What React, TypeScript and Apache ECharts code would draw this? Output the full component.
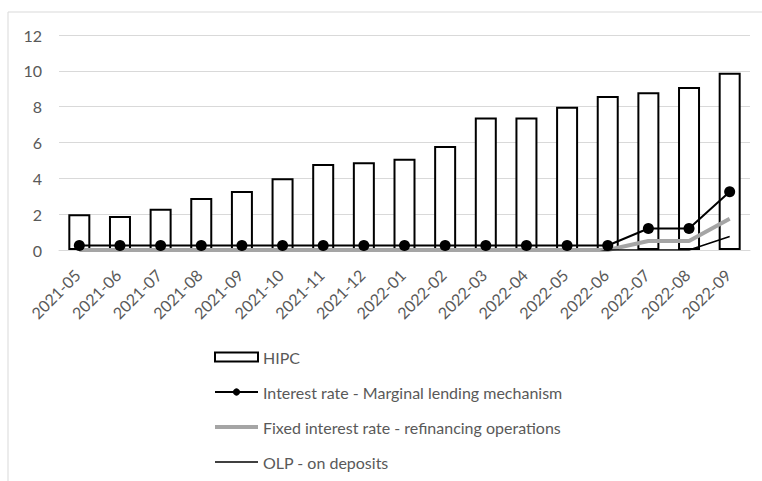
import React, { useEffect, useRef } from "react";
import * as echarts from "echarts";

const categories = [
  "2021-05", "2021-06", "2021-07", "2021-08", "2021-09", "2021-10", "2021-11", "2021-12",
  "2022-01", "2022-02", "2022-03", "2022-04", "2022-05", "2022-06", "2022-07", "2022-08", "2022-09",
];
const hipc = [2.0, 1.9, 2.3, 2.9, 3.3, 4.0, 4.8, 4.9, 5.1, 5.8, 7.4, 7.4, 8.0, 8.6, 8.8, 9.1, 9.9];
const marginalLending = [0.25, 0.25, 0.25, 0.25, 0.25, 0.25, 0.25, 0.25, 0.25, 0.25, 0.25, 0.25, 0.25, 0.25, 1.2, 1.2, 3.25];
const fixedRate = [0, 0, 0, 0, 0, 0, 0, 0, 0, 0, 0, 0, 0, 0, 0.5, 0.5, 1.75];
const depositRate = [-0.5, -0.5, -0.5, -0.5, -0.5, -0.5, -0.5, -0.5, -0.5, -0.5, -0.5, -0.5, -0.5, 0, 0, 0, 0.75];
const yTicks = { min: 0, max: 12, interval: 2 };

const FONT = "Lato, 'Open Sans', sans-serif";
const TXT = "#595959";

export default function App() {
  const ref = useRef<HTMLDivElement>(null);
  useEffect(() => {
    document.body.style.margin = "0";
    const chart = echarts.init(ref.current!, undefined, { renderer: "svg" });
    const frame = [
      { type: "line", shape: { x1: 8, y1: 12, x2: 762, y2: 12 }, style: { stroke: "#d9d9d9", lineWidth: 1 } },
      { type: "line", shape: { x1: 8, y1: 12, x2: 8, y2: 481 }, style: { stroke: "#d9d9d9", lineWidth: 1 } },
    ];
    chart.setOption({
      animation: false,
      textStyle: { fontFamily: FONT },
      graphic: frame,
      grid: { left: 59, right: 12, top: 35, bottom: 231, containLabel: false },
      xAxis: {
        type: "category",
        data: categories,
        axisLine: { lineStyle: { color: "#d9d9d9", width: 1 } },
        axisTick: { show: false },
        axisLabel: { show: false },
      },
      yAxis: {
        type: "value",
        min: yTicks.min,
        max: yTicks.max,
        interval: yTicks.interval,
        axisLine: { show: false },
        axisTick: { show: false },
        splitLine: { lineStyle: { color: "#d9d9d9", width: 1 } },
        axisLabel: { color: TXT, fontSize: 16, margin: 17, fontFamily: FONT },
      },
      legend: {
        orient: "vertical",
        left: 213,
        top: 349,
        padding: 0,
        itemWidth: 43,
        itemHeight: 9,
        itemGap: 19,
        textStyle: { color: TXT, fontSize: 16, lineHeight: 16, fontFamily: FONT },
        data: [
          { name: "HIPC", icon: "rect" },
          { name: "Interest rate - Marginal lending mechanism", lineStyle: { width: 2, color: "#000000" } },
          {
            name: "Fixed interest rate - refinancing operations",
            itemStyle: { opacity: 0 },
            lineStyle: { width: 4, color: "#a5a5a5" },
          },
          { name: "OLP - on deposits", itemStyle: { opacity: 0 }, lineStyle: { width: 1.5, color: "#000000" } },
        ],
      },
      series: [
        {
          name: "HIPC",
          type: "bar",
          data: hipc,
          barWidth: 22,
          itemStyle: { color: "#ffffff", borderColor: "#000000", borderWidth: 2 },
        },
        {
          name: "Fixed interest rate - refinancing operations",
          type: "line",
          data: fixedRate,
          symbol: "none",
          lineStyle: { color: "#a5a5a5", width: 4 },
          itemStyle: { color: "#a5a5a5" },
        },
        {
          name: "OLP - on deposits",
          type: "line",
          data: depositRate,
          symbol: "none",
          clip: true,
          lineStyle: { color: "#000000", width: 1.5 },
          itemStyle: { color: "#000000" },
        },
        {
          name: "Interest rate - Marginal lending mechanism",
          type: "line",
          data: marginalLending,
          symbol: "circle",
          symbolSize: 11,
          lineStyle: { color: "#000000", width: 2 },
          itemStyle: { color: "#000000" },
        },
      ],
    });
    // category labels, positioned through the axis scale, rotated 45° like the original
    const baseY = chart.convertToPixel({ yAxisIndex: 0 }, 0) as number;
    const labels = categories.map((c) => {
      const px = chart.convertToPixel({ xAxisIndex: 0 }, c) as number;
      return {
        type: "text",
        x: px - 2,
        y: baseY + 22,
        rotation: Math.PI / 4,
        style: {
          text: c,
          fill: TXT,
          fontSize: 16,
          fontFamily: FONT,
          align: "right",
          verticalAlign: "middle",
        },
      };
    });
    chart.setOption({ graphic: [...frame, ...labels] });
    return () => chart.dispose();
  }, []);
  return <div ref={ref} style={{ width: 762, height: 481 }} />;
}
